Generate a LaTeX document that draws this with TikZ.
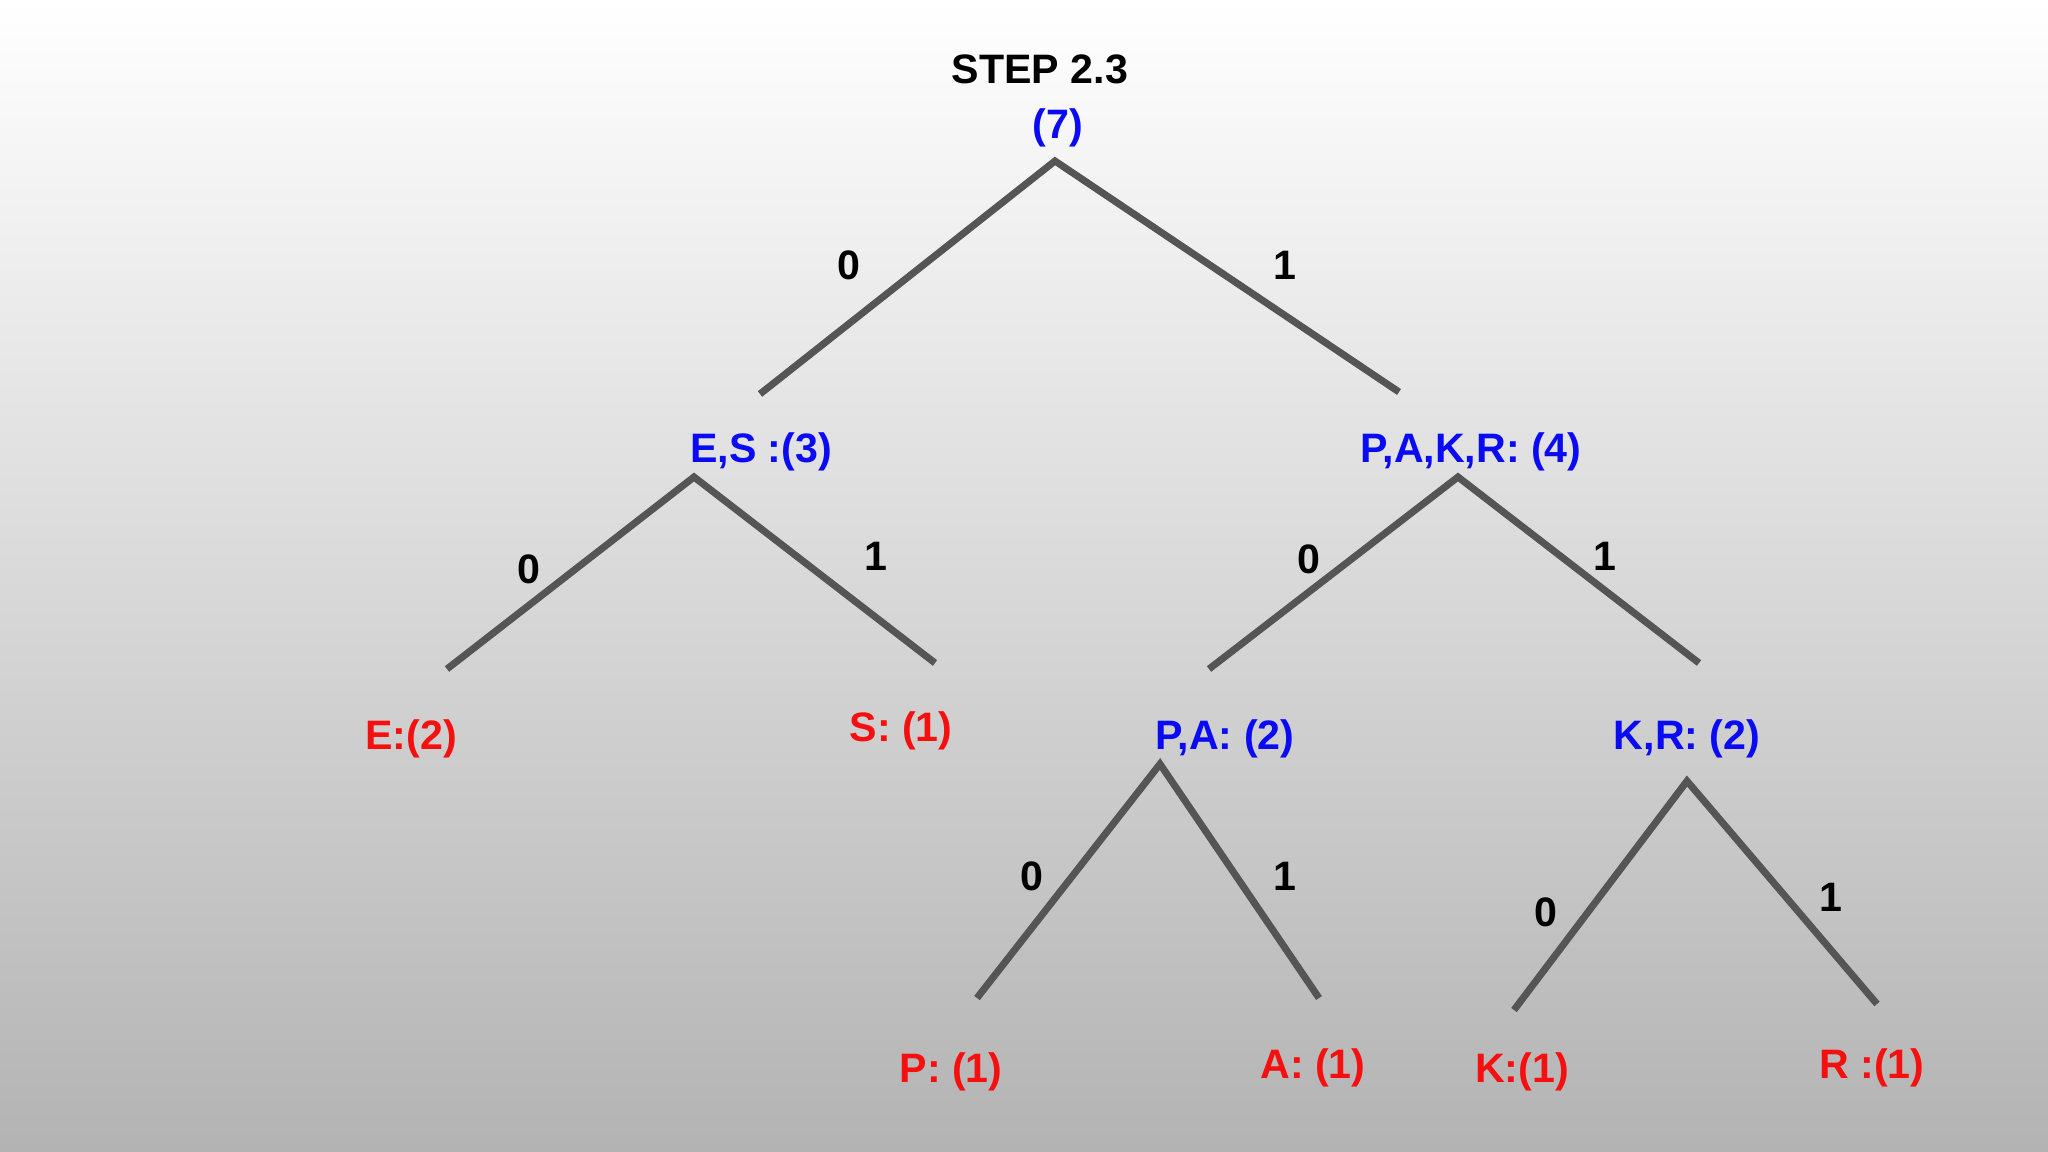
\documentclass[tikz,border=0pt]{standalone}
\usepackage{fontspec}
\setmainfont{Liberation Sans}
\definecolor{nblue}{RGB}{10,10,245}
\definecolor{nred}{RGB}{245,15,15}
\definecolor{edgegray}{RGB}{85,85,85}
\definecolor{bgbottom}{RGB}{179,179,179}
\begin{document}
\begin{tikzpicture}[x=0.01cm,y=-0.01cm,
  lbl/.style={font=\fontsize{11.7}{14}\selectfont\bfseries, inner sep=0pt},
  inner/.style={lbl, text=nblue, yshift=-4*0.01cm},
  leaf/.style={lbl, text=nred, yshift=-4*0.01cm},
  bit/.style={lbl, text=black},
  edge/.style={draw=edgegray, line width=2pt}]
\shade[top color=white, bottom color=bgbottom] (0,0) rectangle (2048,1152);
\useasboundingbox (0,0) rectangle (2048,1152);
% labels
\node[bit] (title) at (1040,69) {STEP 2.3};
\node[inner] (root) at (1058,124) {(7)};
\node[inner] (es) at (761,448) {E,S :(3)};
\node[inner] (pakr) at (1471,448) {P,A,K,R: (4)};
\node[leaf] (e) at (411,735) {E:(2)};
\node[leaf] (s) at (901,727) {S: (1)};
\node[inner] (pa) at (1225,735) {P,A: (2)};
\node[inner] (kr) at (1687,735) {K,R: (2)};
\node[leaf] (p) at (951,1068) {P: (1)};
\node[leaf] (a) at (1313,1064) {A: (1)};
\node[leaf] (k) at (1522,1068) {K:(1)};
\node[leaf] (r) at (1872,1064) {R :(1)};
% apexes and branch ends
\coordinate (rootA) at (1055,161);
\coordinate (rootL) at (760,394);
\coordinate (rootR) at (1399,392);
\coordinate (esA) at (694,477);
\coordinate (esL) at (447,669);
\coordinate (esR) at (935,663);
\coordinate (pakrA) at (1458,477);
\coordinate (pakrL) at (1209,669);
\coordinate (pakrR) at (1699,663);
\coordinate (paA) at (1160,764);
\coordinate (paL) at (977,998);
\coordinate (paR) at (1319,998);
\coordinate (krA) at (1687,781);
\coordinate (krL) at (1514,1010);
\coordinate (krR) at (1877,1004);
% edges
\draw[edge] (rootL) -- (rootA) -- (rootR);
\draw[edge] (esL) -- (esA) -- (esR);
\draw[edge] (pakrL) -- (pakrA) -- (pakrR);
\draw[edge] (paL) -- (paA) -- (paR);
\draw[edge] (krL) -- (krA) -- (krR);
% bit labels
\node[bit] (b1) at (849,265) {0};
\node[bit] (b2) at (1285,265) {1};
\node[bit] (b3) at (529,569) {0};
\node[bit] (b4) at (876,556) {1};
\node[bit] (b5) at (1309,559) {0};
\node[bit] (b6) at (1605,556) {1};
\node[bit] (b7) at (1032,876) {0};
\node[bit] (b8) at (1285,876) {1};
\node[bit] (b9) at (1546,912) {0};
\node[bit] (b10) at (1831,897) {1};
\end{tikzpicture}
\end{document}
